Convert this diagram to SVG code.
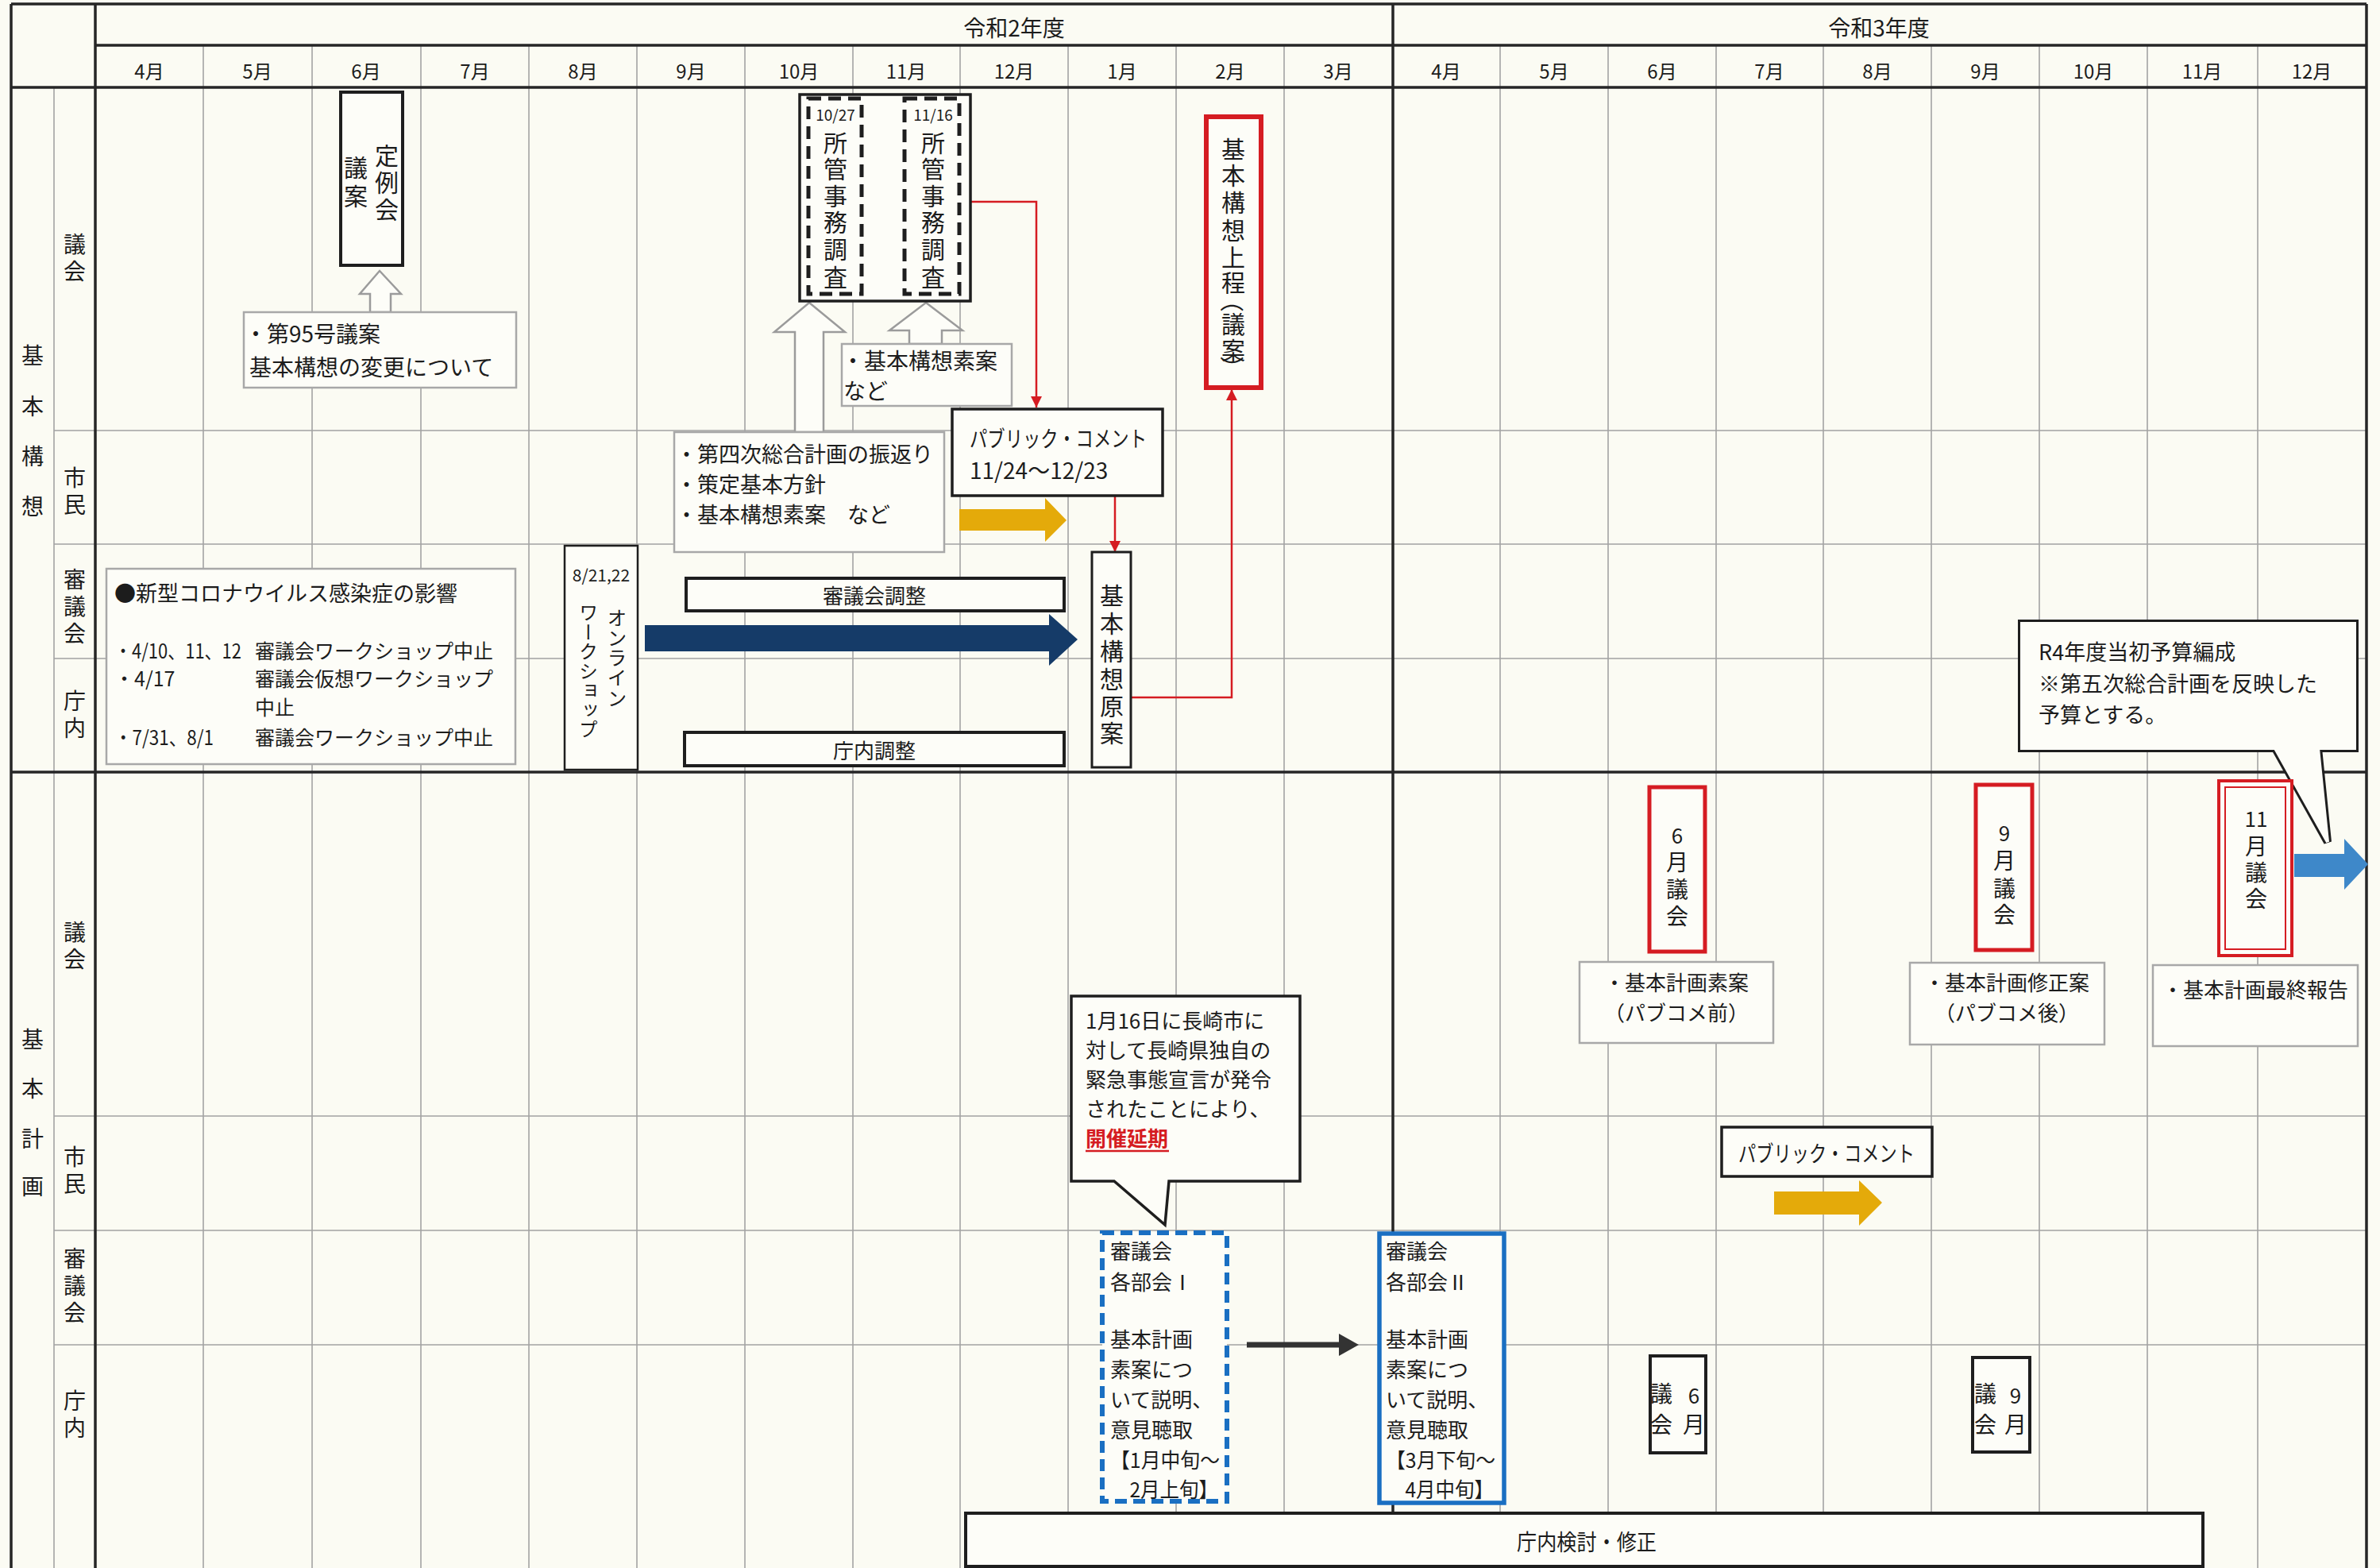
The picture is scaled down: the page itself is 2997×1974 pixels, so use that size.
<svg xmlns="http://www.w3.org/2000/svg" width="2997" height="1974" viewBox="0 0 2997 1974">
<style>
text{font-family:"Noto Sans CJK JP","Noto Sans",sans-serif;fill:#1c1c1c;dominant-baseline:central}
.c{text-anchor:middle}
.vt{writing-mode:vertical-rl;text-anchor:start}
.f19{font-size:19px}.f21{font-size:21px}.f24{font-size:24px}.f25{font-size:25px}.f26{font-size:26px}.f27{font-size:27px}.f28{font-size:28px}.f30{font-size:30px}
.grid{stroke:#a3a3a3;stroke-width:1.6;fill:none}
.thick{stroke:#262626;stroke-width:3.5;fill:none}
.box{fill:#fdfdf8;stroke:#1e1e1e;stroke-width:4}
.note{fill:#fdfdf8;stroke:#a8a8a8;stroke-width:2.5}
.hollow{fill:#fdfdf8;stroke:#9b9b9b;stroke-width:2.5}
.redline{fill:none;stroke:#d51c22;stroke-width:2.5}
.redbox{fill:#fdfdf8;stroke:#d51c22;stroke-width:5}
.dash{fill:none;stroke:#1e1e1e;stroke-width:5;stroke-dasharray:16 9}
.bluebox{fill:#fdfdf8;stroke:#1a6fc2;stroke-width:5.5}
</style>
<defs>
<marker id="ahRed" viewBox="0 0 10 10" refX="10" refY="5" markerWidth="14" markerHeight="14" markerUnits="userSpaceOnUse" orient="auto"><path d="M0,0 L10,5 L0,10 Z" fill="#d51c22"/></marker>
</defs>
<rect x="0" y="0" width="2997" height="1974" fill="#fbfbf3"/>

<g id="grid">
<g class="grid">
<path d="M256,57V1974M393,57V1974M530,57V1974M666,57V1974M802,57V1974M938,57V1974M1074,57V1974M1209,57V1974M1345,57V1974M1481,57V1974M1617,57V1974M1889,57V1974M2025,57V1974M2161,57V1974M2296,57V1974M2432,57V1974M2568,57V1974M2704,57V1974M2843,57V1974"/>
<path d="M68,110V1974"/>
<path d="M68,542H2980M68,685H2980M68,829H2980M68,1405H2980M68,1549H2980M68,1693H2980"/>
</g>
<g class="thick">
<path d="M14,5V1974M120,5V1974M1754,5V1974M2980,5V1974"/>
<path d="M14,5H2980M120,57H2980M14,110H2980M14,972H2980"/>
</g>
</g>

<g id="header">
<text class="c f28" x="1277" y="34">令和2年度</text>
<text class="c f28" x="2366" y="34">令和3年度</text>
<g class="f24">
<text class="c" x="188" y="88">4月</text><text class="c" x="324" y="88">5月</text><text class="c" x="461" y="88">6月</text><text class="c" x="598" y="88">7月</text><text class="c" x="734" y="88">8月</text><text class="c" x="870" y="88">9月</text><text class="c" x="1006" y="88">10月</text><text class="c" x="1141" y="88">11月</text><text class="c" x="1277" y="88">12月</text><text class="c" x="1413" y="88">1月</text><text class="c" x="1549" y="88">2月</text><text class="c" x="1685" y="88">3月</text>
<text class="c" x="1821" y="88">4月</text><text class="c" x="1957" y="88">5月</text><text class="c" x="2093" y="88">6月</text><text class="c" x="2228" y="88">7月</text><text class="c" x="2364" y="88">8月</text><text class="c" x="2500" y="88">9月</text><text class="c" x="2636" y="88">10月</text><text class="c" x="2773" y="88">11月</text><text class="c" x="2911" y="88">12月</text>
</g>
</g>

<g id="labels" class="f28">
<text class="c" x="41 41 41 41" y="446 510 573 636">基本構想</text>
<text class="c" x="41 41 41 41" y="1307 1369 1432 1492">基本計画</text>
<text class="c" x="94 94" y="306 340">議会</text>
<text class="c" x="94 94" y="600 634">市民</text>
<text class="c" x="94 94 94" y="728 762 796">審議会</text>
<text class="c" x="94 94" y="881 915">庁内</text>
<text class="c" x="94 94" y="1172 1206">議会</text>
<text class="c" x="94 94" y="1455 1489">市民</text>
<text class="c" x="94 94 94" y="1583 1617 1651">審議会</text>
<text class="c" x="94 94" y="1762 1796">庁内</text>
</g>

<g id="connectors">
<polygon class="hollow" points="478,341 505,370 492,370 492,393 466,393 466,370 453,370"/>
<polygon class="hollow" points="1019,381 1064,418 1037,418 1037,544 1001,544 1001,418 975,418"/>
<polygon class="hollow" points="1166,381 1212,416 1186,416 1186,433 1145,433 1145,416 1120,416"/>
<line class="redline" x1="1072" y1="254" x2="1139" y2="254" marker-end="url(#ahRed)"/>
<polyline class="redline" points="1208,254 1305,254 1305,513" marker-end="url(#ahRed)"/>
<line class="redline" x1="1404" y1="624" x2="1404" y2="695" marker-end="url(#ahRed)"/>
<polyline class="redline" points="1424,878 1551,878 1551,490" marker-end="url(#ahRed)"/>
<polygon fill="#e4aa0a" points="1208,641 1316,641 1316,627 1343,655 1316,682 1316,668 1208,668"/>
<polygon fill="#153b68" points="812,787 1321,787 1321,773 1357,805 1321,838 1321,820 812,820"/>
<polygon fill="#3e88c9" points="2889,1075 2952,1075 2952,1056 2982,1088 2952,1120 2952,1104 2889,1104"/>
<polygon fill="#e4aa0a" points="2234,1500 2341,1500 2341,1486 2370,1514 2341,1543 2341,1529 2234,1529"/>
<line x1="1570" y1="1693" x2="1690" y2="1693" stroke="#333" stroke-width="7"/>
<polygon fill="#333" points="1686,1679 1711,1693 1686,1707"/>
</g>

<g id="teirei">
<rect class="box" x="429" y="116" width="78" height="218"/>
<text class="c f30" x="487 487 487" y="194 228 262">定例会</text>
<text class="c f30" x="448 448" y="209 245">議案</text>
</g>

<g id="note95">
<rect class="note" x="307" y="393" width="343" height="95"/>
<text class="f28" x="308" y="419">・第95号議案</text>
<text class="f28" x="314" y="461">基本構想の変更について</text>
</g>

<g id="shokan">
<rect class="box" x="1007" y="119" width="215" height="260" style="stroke-width:3.5"/>
<rect class="dash" x="1018" y="124" width="67" height="246"/>
<rect class="dash" x="1139" y="124" width="69" height="246"/>
<text class="c f19" x="1052" y="143">10/27</text>
<text class="c f19" x="1175" y="143">11/16</text>
<text class="c f30" x="1052 1052 1052 1052 1052 1052" y="178 211 245 278 312 347">所管事務調査</text>
<text class="c f30" x="1175 1175 1175 1175 1175 1175" y="178 211 245 278 312 347">所管事務調査</text>
</g>

<g id="soan">
<rect class="note" x="1060" y="433" width="214" height="78"/>
<text class="f28" x="1060" y="453">・基本構想素案</text>
<text class="f28" x="1062" y="491">など</text>
</g>

<g id="daiyoji">
<rect class="note" x="849" y="544" width="340" height="151"/>
<text class="f27" x="851" y="570">・第四次総合計画の振返り</text>
<text class="f27" x="851" y="608">・策定基本方針</text>
<text class="f27" x="851" y="646">・基本構想素案　など</text>
</g>

<g id="pubcom1">
<rect class="box" x="1199" y="515" width="265" height="109" style="stroke-width:3.5"/>
<text class="f28" x="1221" y="551" textLength="223" lengthAdjust="spacingAndGlyphs">パブリック・コメント</text>
<text class="f28" x="1221" y="591">11/24～12/23</text>
</g>

<g id="genan">
<rect class="box" x="1375" y="695" width="49" height="271" style="stroke-width:3"/>
<text class="c f30" x="1400 1400 1400 1400 1400 1400" y="748 783 818 853 887 921">基本構想原案</text>
</g>

<g id="jotei">
<rect class="redbox" x="1519" y="147" width="69" height="341" style="stroke-width:6"/>
<text class="c f30" x="1553 1553 1553 1553 1553 1553" y="186 219 253 288 322 354">基本構想上程</text>
<text class="c f30" transform="translate(1553,378) rotate(90)">（</text>
<text class="c f30" x="1553 1553" y="406 439">議案</text>
<text class="c f30" transform="translate(1553,463) rotate(90)">）</text>
</g>

<g id="shingichosei">
<rect class="box" x="864" y="728" width="476" height="41"/>
<text class="c f26" x="1101" y="748">審議会調整</text>
</g>

<g id="chonaichosei">
<rect class="box" x="862" y="922" width="478" height="42"/>
<text class="c f26" x="1101" y="943">庁内調整</text>
</g>

<g id="online">
<rect class="box" x="711" y="687" width="92" height="282" style="stroke-width:2.5"/>
<text class="c f21" x="757" y="723">8/21,22</text>
<text class="c f24" x="777 777 777 777 777" y="776 801 826 851 877">オンライン</text>
<text class="vt f24" x="741" y="759" letter-spacing="0.5">ワークショップ</text>
</g>

<g id="corona">
<rect class="note" x="134" y="716" width="515" height="246"/>
<text class="f27" x="144" y="745">●新型コロナウイルス感染症の影響</text>
<text class="f25" x="144" y="818" textLength="160" lengthAdjust="spacingAndGlyphs">・4/10、11、12</text>
<text class="f25" x="321" y="818">審議会ワークショップ中止</text>
<text class="f25" x="144" y="853">・4/17</text>
<text class="f25" x="321" y="853">審議会仮想ワークショップ</text>
<text class="f25" x="321" y="889">中止</text>
<text class="f25" x="144" y="927" textLength="125" lengthAdjust="spacingAndGlyphs">・7/31、8/1</text>
<text class="f25" x="321" y="927">審議会ワークショップ中止</text>
</g>

<g id="r4callout">
<path d="M2546,785 H2965 V942 H2919 L2931,1060 L2865,942 H2546 Z" fill="none" stroke="#1e1e1e" stroke-width="10" stroke-linejoin="miter"/>
<path d="M2546,785 H2965 V942 H2919 L2931,1060 L2865,942 H2546 Z" fill="#fdfdf8" stroke="#fdfdf8" stroke-width="4"/>
<text class="f27" x="2567" y="819">R4年度当初予算編成</text>
<text class="f27" x="2567" y="859">※第五次総合計画を反映した</text>
<text class="f27" x="2567" y="898">予算とする。</text>
</g>

<g id="gikai6">
<rect class="redbox" x="2077" y="991" width="70" height="207"/>
<text class="c f26" x="2112" y="1050">6</text>
<text class="c f28" x="2112 2112 2112" y="1084 1118 1152">月議会</text>
</g>
<g id="gikai9">
<rect class="redbox" x="2488" y="988" width="71" height="208"/>
<text class="c f26" x="2524" y="1047">9</text>
<text class="c f28" x="2524 2524 2524" y="1082 1117 1150">月議会</text>
</g>
<g id="gikai11">
<rect class="redbox" x="2794" y="983" width="92" height="220" style="stroke-width:4"/>
<rect x="2802" y="991" width="76" height="204" fill="none" stroke="#d51c22" stroke-width="2"/>
<text class="c f26" x="2841" y="1029">11</text>
<text class="c f28" x="2841 2841 2841" y="1064 1097 1130">月議会</text>
</g>

<g id="note6">
<rect class="note" x="1989" y="1211" width="244" height="102"/>
<text class="c f26" x="2111" y="1235">・基本計画素案</text>
<text class="c f26" x="2111" y="1273">（パブコメ前）</text>
</g>
<g id="note9">
<rect class="note" x="2405" y="1212" width="245" height="103"/>
<text class="c f26" x="2527" y="1235">・基本計画修正案</text>
<text class="c f26" x="2527" y="1273">（パブコメ後）</text>
</g>
<g id="note11">
<rect class="note" x="2711" y="1215" width="258" height="102"/>
<text class="c f26" x="2840" y="1244">・基本計画最終報告</text>
</g>

<g id="encallout">
<path d="M1349,1254 H1637 V1487 H1472 L1467,1542 L1403,1487 H1349 Z" fill="#fdfdf8" stroke="#1e1e1e" stroke-width="3.5"/>
<text class="f26" x="1367" y="1283">1月16日に長崎市に</text>
<text class="f26" x="1367" y="1320">対して長崎県独自の</text>
<text class="f26" x="1367" y="1357">緊急事態宣言が発令</text>
<text class="f26" x="1367" y="1394">されたことにより、</text>
<text class="f26" x="1367" y="1431" style="fill:#d51c22;font-weight:bold">開催延期</text>
<line x1="1367" y1="1449" x2="1472" y2="1449" stroke="#d51c22" stroke-width="2.5"/>
</g>

<g id="bukai1">
<rect x="1388" y="1552" width="157" height="338" fill="#fdfdf8" stroke="#1a6fc2" stroke-width="6" stroke-dasharray="15 8"/>
<g class="f26">
<text x="1398" y="1573">審議会</text>
<text x="1398" y="1612">各部会Ⅰ</text>
<text x="1398" y="1684">基本計画</text>
<text x="1398" y="1722">素案につ</text>
<text x="1398" y="1760">いて説明、</text>
<text x="1398" y="1798">意見聴取</text>
<text x="1398" y="1836" textLength="138" lengthAdjust="spacingAndGlyphs">【1月中旬～</text>
<text x="1398" y="1873" textLength="136" lengthAdjust="spacingAndGlyphs">　2月上旬】</text>
</g>
</g>

<g id="bukai2">
<rect class="bluebox" x="1737" y="1553" width="157" height="339"/>
<g class="f26">
<text x="1745" y="1573">審議会</text>
<text x="1745" y="1612">各部会Ⅱ</text>
<text x="1745" y="1684">基本計画</text>
<text x="1745" y="1722">素案につ</text>
<text x="1745" y="1760">いて説明、</text>
<text x="1745" y="1798">意見聴取</text>
<text x="1745" y="1836" textLength="138" lengthAdjust="spacingAndGlyphs">【3月下旬～</text>
<text x="1745" y="1873" textLength="136" lengthAdjust="spacingAndGlyphs">　4月中旬】</text>
</g>
</g>

<g id="pubcom2">
<rect class="box" x="2168" y="1419" width="265" height="62" style="stroke-width:3.5"/>
<text class="c f28" x="2300" y="1451" textLength="222" lengthAdjust="spacingAndGlyphs">パブリック・コメント</text>
</g>

<g id="chonai6">
<rect class="box" x="2078" y="1707" width="70" height="122"/>
<text class="c f26" x="2133" y="1755">6</text>
<text class="c f28" x="2133" y="1792">月</text>
<text class="c f28" x="2092 2092" y="1753 1792">議会</text>
</g>
<g id="chonai9">
<rect class="box" x="2484" y="1709" width="72" height="119"/>
<text class="c f26" x="2538" y="1755">9</text>
<text class="c f28" x="2538" y="1792">月</text>
<text class="c f28" x="2500 2500" y="1753 1792">議会</text>
</g>

<g id="kento">
<rect class="box" x="1216" y="1905" width="1558" height="67"/>
<text class="f28" x="1910" y="1940" textLength="176" lengthAdjust="spacingAndGlyphs">庁内検討・修正</text>
</g>
</svg>
